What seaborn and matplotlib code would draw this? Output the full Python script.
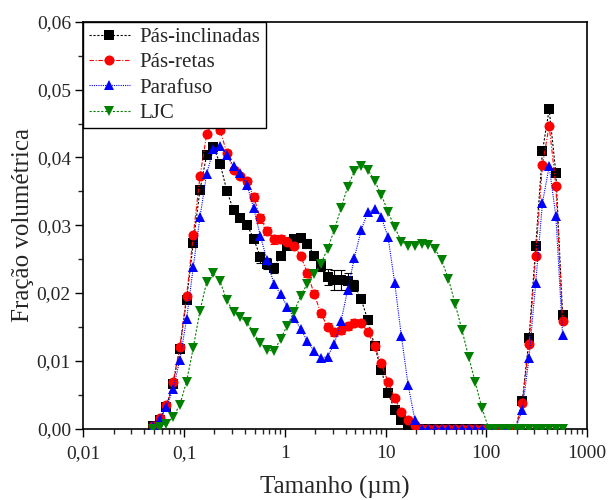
import pandas as pd
import matplotlib.pyplot as plt
import matplotlib.ticker as mticker
import seaborn as sns

# Tamanho das partículas (µm) - classes do difratômetro
tamanho = [0.0490, 0.0571, 0.0666, 0.0777, 0.0905, 0.1056, 0.1231, 0.1435, 0.1673, 0.1951,
           0.2274, 0.2652, 0.3092, 0.3605, 0.4203, 0.4900, 0.5713, 0.6661, 0.7766, 0.9054,
           1.056, 1.231, 1.435, 1.673, 1.951, 2.274, 2.652, 3.092, 3.605, 4.203,
           4.900, 5.713, 6.661, 7.766, 9.054, 10.56, 12.31, 14.35, 16.73, 19.51,
           22.74, 26.52, 30.92, 36.05, 42.03, 49.00, 57.13, 66.61, 77.66, 90.54,
           105.6, 123.1, 143.5, 167.3, 195.1, 227.4, 265.2, 309.2, 360.5, 420.3,
           490.0, 571.3]

pas_inclinadas = [0.0003, 0.0013, 0.0032, 0.0066, 0.0118, 0.0190, 0.0274, 0.0352, 0.0404, 0.0415,
                  0.0391, 0.0351, 0.0322, 0.0310, 0.0301, 0.0280, 0.0253, 0.0243, 0.0237, 0.0255,
                  0.0270, 0.0280, 0.0281, 0.0273, 0.0255, 0.0240, 0.0224, 0.0219, 0.0219, 0.0217,
                  0.0211, 0.0191, 0.0160, 0.0122, 0.0086, 0.0052, 0.0028, 0.0013, 0.0004, 0.0,
                  0.0, 0.0, 0.0, 0.0, 0.0, 0.0, 0.0, 0.0, 0.0, 0.0,
                  0.0, 0.0, 0.0, 0.0, 0.0, 0.0040, 0.0133, 0.0269, 0.0409, 0.0471,
                  0.0377, 0.0168]
pas_inclinadas_err = [0.0002, 0.0002, 0.0002, 0.0002, 0.0002, 0.0002, 0.0003, 0.0003, 0.0003, 0.0003,
                      0.0003, 0.0003, 0.0003, 0.0003, 0.0003, 0.0003, 0.0008, 0.0008, 0.0008, 0.0005,
                      0.0005, 0.0005, 0.0005, 0.0006, 0.0006, 0.0008, 0.0012, 0.0015, 0.0015, 0.0013,
                      0.0008, 0.0005, 0.0003, 0.0003, 0.0003, 0.0003, 0.0003, 0.0002, 0.0002, 0.0,
                      0.0, 0.0, 0.0, 0.0, 0.0, 0.0, 0.0, 0.0, 0.0, 0.0,
                      0.0, 0.0, 0.0, 0.0, 0.0, 0.0003, 0.0003, 0.0003, 0.0003, 0.0003,
                      0.0003, 0.0003]

pas_retas = [0.0003, 0.0015, 0.0034, 0.0069, 0.0120, 0.0195, 0.0285, 0.0372, 0.0434, 0.0455,
             0.0440, 0.0407, 0.0382, 0.0372, 0.0365, 0.0342, 0.0310, 0.0292, 0.0279, 0.0280,
             0.0276, 0.0270, 0.0255, 0.0229, 0.0199, 0.0170, 0.0150, 0.0142, 0.0145, 0.0151,
             0.0156, 0.0156, 0.0142, 0.0122, 0.0096, 0.0069, 0.0045, 0.0025, 0.0013, 0.0005,
             0.0, 0.0, 0.0, 0.0, 0.0, 0.0, 0.0, 0.0, 0.0, 0.0,
             0.0, 0.0, 0.0, 0.0, 0.0, 0.0037, 0.0125, 0.0255, 0.0389, 0.0447,
             0.0358, 0.0158]
pas_retas_err = [0.0003, 0.0003, 0.0003, 0.0003, 0.0003, 0.0003, 0.0003, 0.0003, 0.0003, 0.0004,
                 0.0004, 0.0004, 0.0004, 0.0004, 0.0004, 0.0006, 0.0006, 0.0006, 0.0006, 0.0006,
                 0.0006, 0.0004, 0.0004, 0.0005, 0.0005, 0.0005, 0.0005, 0.0005, 0.0005, 0.0005,
                 0.0005, 0.0003, 0.0003, 0.0003, 0.0003, 0.0003, 0.0003, 0.0003, 0.0002, 0.0002,
                 0.0, 0.0, 0.0, 0.0, 0.0, 0.0, 0.0, 0.0, 0.0, 0.0,
                 0.0, 0.0, 0.0, 0.0, 0.0, 0.0003, 0.0003, 0.0003, 0.0003, 0.0003,
                 0.0003, 0.0003]

parafuso = [0.0003, 0.0014, 0.0032, 0.0058, 0.0101, 0.0161, 0.0238, 0.0312, 0.0376, 0.0412,
            0.0417, 0.0404, 0.0387, 0.0377, 0.0360, 0.0325, 0.0284, 0.0248, 0.0214, 0.0198,
            0.0180, 0.0163, 0.0147, 0.0129, 0.0114, 0.0104, 0.0106, 0.0125, 0.0158, 0.0205,
            0.0252, 0.0293, 0.0319, 0.0324, 0.0312, 0.0283, 0.0215, 0.0136, 0.0064, 0.0013,
            0.0, 0.0, 0.0, 0.0, 0.0, 0.0, 0.0, 0.0, 0.0, 0.0,
            0.0, 0.0, 0.0, 0.0, 0.0, 0.0027, 0.0104, 0.0215, 0.0333, 0.0387,
            0.0313, 0.0138]

ljc = [0.0, 0.0002, 0.0007, 0.0017, 0.0035, 0.0069, 0.0119, 0.0174, 0.0216, 0.0229,
       0.0217, 0.0189, 0.0172, 0.0164, 0.0157, 0.0141, 0.0126, 0.0116, 0.0114, 0.0132,
       0.0152, 0.0172, 0.0196, 0.0214, 0.0228, 0.0243, 0.0265, 0.0293, 0.0325, 0.0357,
       0.0380, 0.0388, 0.0382, 0.0366, 0.0345, 0.0320, 0.0297, 0.0276, 0.0270, 0.0270,
       0.0273, 0.0271, 0.0265, 0.0248, 0.0221, 0.0184, 0.0146, 0.0106, 0.0068, 0.0030,
       0.0, 0.0, 0.0, 0.0, 0.0, 0.0, 0.0, 0.0, 0.0, 0.0,
       0.0, 0.0]

x_ticks = [0.01, 0.1, 1, 10, 100, 1000]
x_tick_labels = ['0,01', '0,1', '1', '10', '100', '1000']

sns.set_style('ticks')
plt.rcParams['font.family'] = ['Liberation Serif', 'DejaVu Serif']

df = pd.DataFrame({'tamanho': tamanho, 'inclinadas': pas_inclinadas, 'retas': pas_retas,
                   'parafuso': parafuso, 'ljc': ljc})

fig, ax = plt.subplots(figsize=(6.09, 5.0), dpi=100)
fig.subplots_adjust(left=0.137, right=0.964, bottom=0.143, top=0.956)

series = [
    ('inclinadas', 'Pás-inclinadas', 'black', 's', 6.5, (0, (2.0, 1.5)), pas_inclinadas_err),
    ('retas', 'Pás-retas', 'red', 'o', 7.2, (0, (4.0, 1.5, 1.0, 1.5)), pas_retas_err),
    ('parafuso', 'Parafuso', 'blue', '^', 7.5, (0, (1.0, 1.0)), None),
    ('ljc', 'LJC', 'green', 'v', 7.5, (0, (2.0, 1.5)), None),
]

for col, label, color, marker, ms, ls, err in series:
    if err is not None:
        ax.errorbar(df['tamanho'], df[col], yerr=err, fmt='none', ecolor=color,
                    elinewidth=0.8, capsize=3, capthick=0.8, zorder=2)
    sns.lineplot(data=df, x='tamanho', y=col, ax=ax, color=color, marker=marker,
                 markersize=ms, markeredgewidth=0, linestyle=ls, linewidth=0.8,
                 label=label, errorbar=None, zorder=3)

ax.set_xscale('log')
ax.set_xlim(0.01, 1000)
ax.set_ylim(0, 0.06)

ax.xaxis.set_major_locator(mticker.FixedLocator(x_ticks))
ax.xaxis.set_major_formatter(mticker.FixedFormatter(x_tick_labels))
ax.xaxis.set_minor_locator(mticker.LogLocator(base=10, subs=range(2, 10), numticks=20))
ax.xaxis.set_minor_formatter(mticker.NullFormatter())

ax.yaxis.set_major_locator(mticker.MultipleLocator(0.01))
ax.yaxis.set_minor_locator(mticker.MultipleLocator(0.005))
ax.yaxis.set_major_formatter(mticker.FuncFormatter(lambda v, p: f'{v:.2f}'.replace('.', ',')))

ax.tick_params(axis='both', which='major', direction='out', length=6, width=1.0,
               labelsize=14, color='black', top=False, right=False)
ax.tick_params(axis='both', which='minor', direction='out', length=3.5, width=1.0,
               top=False, right=False)
ax.tick_params(axis='x', which='major', pad=6)
ax.tick_params(axis='y', which='major', pad=3)

for side in ['left', 'right', 'top', 'bottom']:
    ax.spines[side].set_visible(True)
    ax.spines[side].set_linewidth(1.2)
    ax.spines[side].set_color('black')

ax.set_xlabel('Tamanho (µm)', fontsize=18, labelpad=10)
ax.set_ylabel('Fração volumétrica', fontsize=18, labelpad=2)

leg = ax.legend(loc='upper left', bbox_to_anchor=(0, 1), borderaxespad=0, fontsize=15,
                frameon=True, fancybox=False, edgecolor='black', framealpha=1,
                handlelength=2.0, handletextpad=0.45, labelspacing=0.28, borderpad=0.25,
                numpoints=1)
leg.get_frame().set_linewidth(1.0)

fig.savefig('out.png', dpi=100)
